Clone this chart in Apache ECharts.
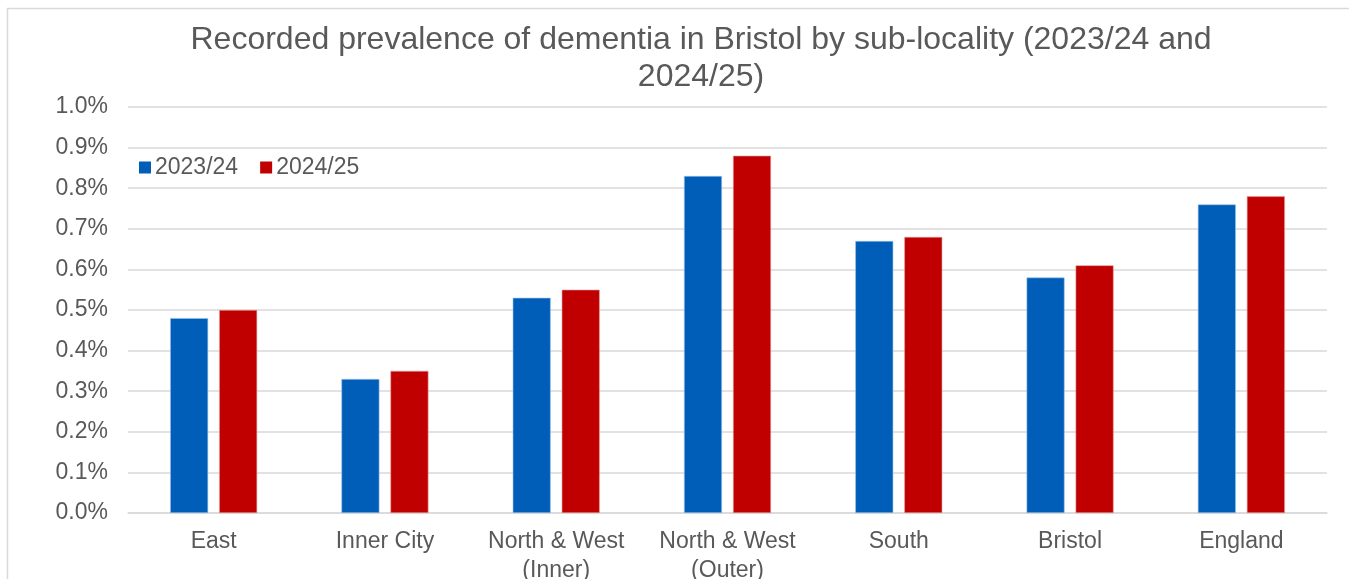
<!DOCTYPE html>
<html>
<head>
<meta charset="utf-8">
<script src="https://cdn.jsdelivr.net/npm/echarts@6/dist/echarts.min.js"></script>
<style>
  html, body { margin: 0; padding: 0; background: #fff; }
  #main { width: 1349px; height: 579px; }
</style>
</head>
<body>
<div id="main"></div>
<script>
var categories = ['East', 'Inner City', 'North & West (Inner)', 'North & West (Outer)', 'South', 'Bristol', 'England'];
var seriesNames = ['2023/24', '2024/25'];
var values2023 = [0.48, 0.33, 0.53, 0.83, 0.67, 0.58, 0.76];
var values2024 = [0.50, 0.35, 0.55, 0.88, 0.68, 0.61, 0.78];
var yTicks = [0, 0.1, 0.2, 0.3, 0.4, 0.5, 0.6, 0.7, 0.8, 0.9, 1.0];

var textColor = '#595959';
var font = 'Liberation Sans, Arial, sans-serif';

var chartDom = document.getElementById('main');
var myChart = echarts.init(chartDom);

var option = {
  animation: false,
  textStyle: { fontFamily: font },
  title: {
    text: 'Recorded prevalence of dementia in Bristol by sub-locality (2023/24 and\n2024/25)',
    left: 696,
    top: 17,
    textAlign: 'center',
    textStyle: { fontSize: 32, fontWeight: 'normal', color: textColor, lineHeight: 37, fontFamily: font }
  },
  graphic: [{
    type: 'rect',
    shape: { x: 7.5, y: 8.5, width: 1400, height: 600 },
    style: { fill: 'none', stroke: '#d9d9d9', lineWidth: 1.5 },
    silent: true
  }],
  legend: {
    left: 134,
    top: 151,
    itemWidth: 12,
    itemHeight: 12,
    itemGap: 22,
    icon: 'rect',
    data: seriesNames,
    itemStyle: { borderWidth: 0 },
    textStyle: { fontSize: 23, color: textColor, fontFamily: font, padding: [0, 0, 0, -1] }
  },
  grid: { left: 128, right: 22, top: 107, bottom: 66, containLabel: false, outerBoundsMode: 'none' },
  xAxis: {
    type: 'category',
    data: categories,
    axisLine: { show: true, lineStyle: { color: '#d9d9d9', width: 1.5 } },
    axisTick: { show: false },
    axisLabel: {
      interval: 0,
      margin: 14,
      fontSize: 23,
      lineHeight: 29,
      color: textColor,
      fontFamily: font,
      formatter: function (v) { return v.replace(' (', '\n('); }
    }
  },
  yAxis: {
    type: 'value',
    min: yTicks[0],
    max: yTicks[yTicks.length - 1],
    interval: 0.1,
    axisLine: { show: false },
    axisTick: { show: false },
    splitLine: { lineStyle: { color: '#d9d9d9', width: 1.5 } },
    axisLabel: {
      margin: 20,
      fontSize: 23,
      color: textColor,
      fontFamily: font,
      formatter: function (v) { return v.toFixed(1) + '%'; }
    }
  },
  series: [
    {
      name: seriesNames[0],
      type: 'bar',
      data: values2023,
      barWidth: 38,
      barGap: '29%',
      itemStyle: { color: '#005EB8', borderColor: '#9cc3ea', borderWidth: 0.6 }
    },
    {
      name: seriesNames[1],
      type: 'bar',
      data: values2024,
      barWidth: 38,
      barGap: '29%',
      itemStyle: { color: '#C00000', borderColor: '#e69a9a', borderWidth: 0.6 }
    }
  ]
};

myChart.setOption(option);
</script>
</body>
</html>
